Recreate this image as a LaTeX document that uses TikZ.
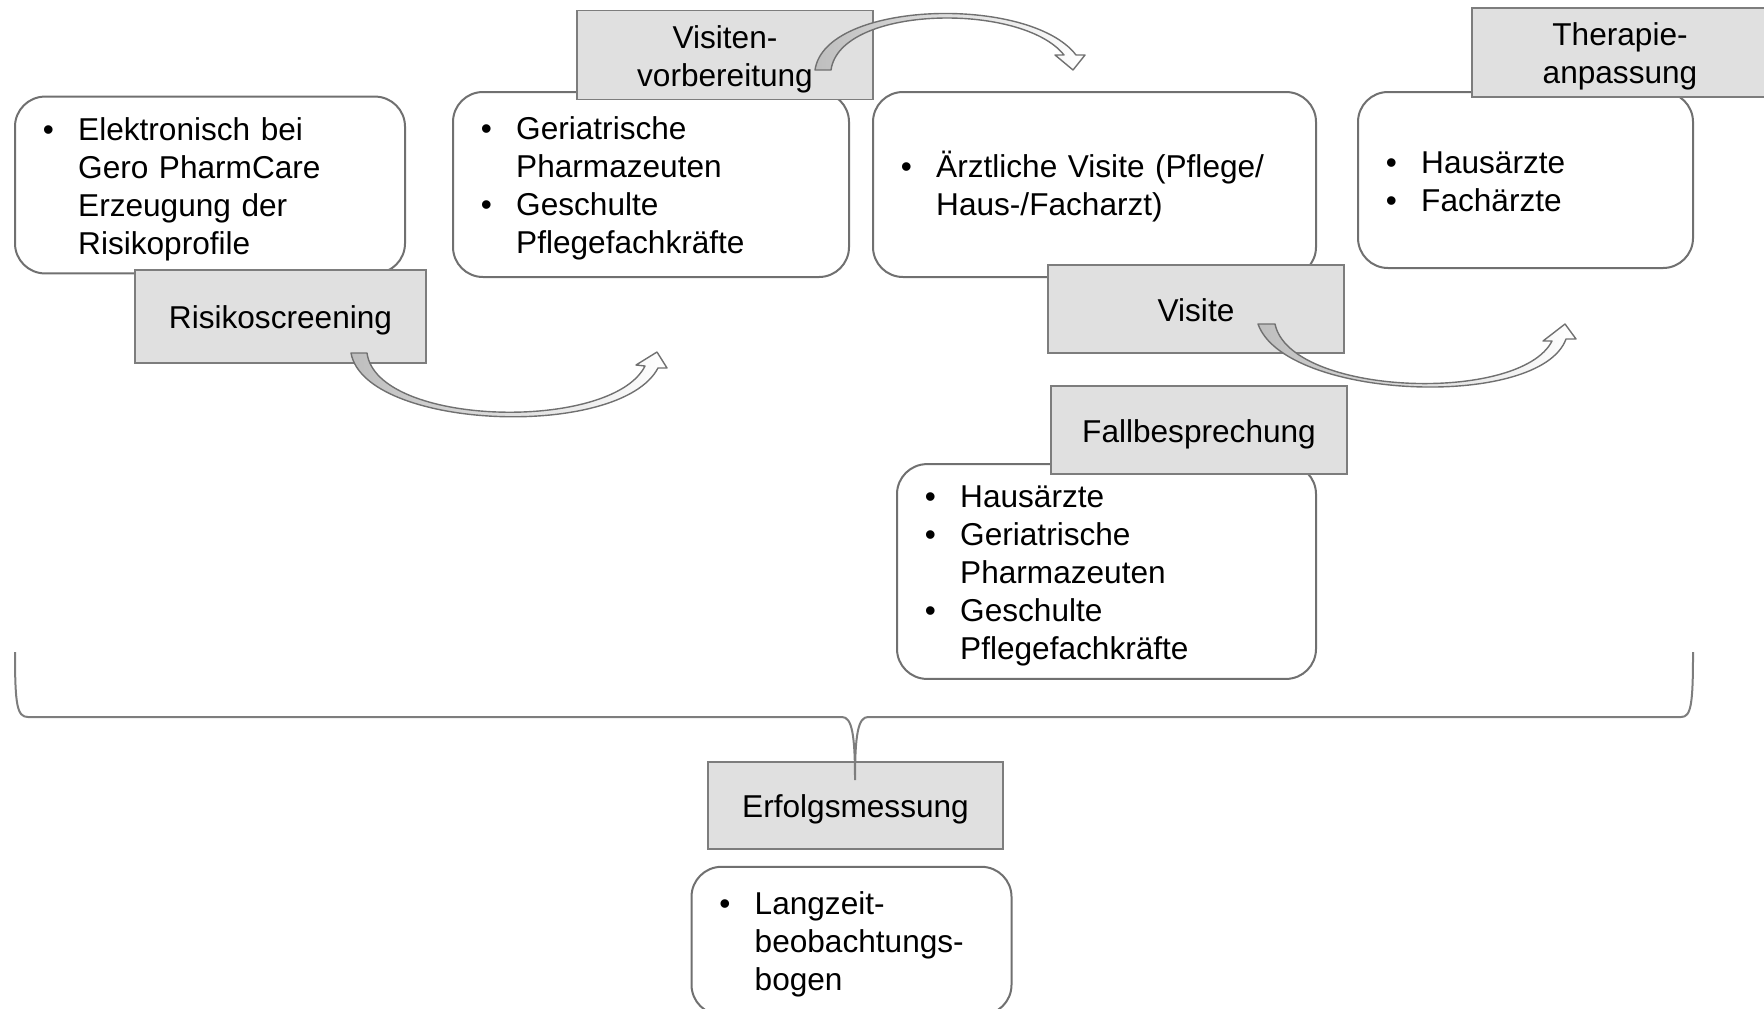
\documentclass[tikz,border=0pt]{standalone}
\usepackage{fontspec}
\setmainfont{Liberation Sans}
\usepackage{tikz}
\usetikzlibrary{positioning}
\definecolor{boxline}{RGB}{112,112,112}
\definecolor{labelfill}{RGB}{224,224,224}
\definecolor{labelline}{RGB}{125,125,125}
\definecolor{arrowfill}{RGB}{190,190,190}
\newcommand{\blt}{\makebox[17.7pt][l]{\textbullet}}
\newcommand{\toppad}{\noalign{\vskip4.4pt}}
\newcommand{\twoline}[1]{\begin{tabular}{@{}c@{}}\toppad #1\end{tabular}}
\tikzset{
  infobox/.style={draw=boxline, line width=1pt, rounded corners=15pt, fill=white,
    inner xsep=13.9pt, inner ysep=4pt, align=left, font=\fontsize{15.8}{19}\selectfont},
  phasebox/.style={draw=labelline, line width=0.8pt, fill=labelfill,
    minimum width=148pt, minimum height=44pt, inner sep=1pt, align=center,
    font=\fontsize{15.8}{19}\selectfont},
  bentarrow/.style={draw=boxline, line width=0.7pt, left color=arrowfill,
    right color=white, line join=round},
  bracket/.style={draw=labelline, line width=1pt}
}

\begin{document}
\begin{tikzpicture}[x=0.5pt, y=-0.5pt]
\useasboundingbox (0,0) rectangle (1764,1008);

% content boxes
\node[infobox, text width=167.2pt, minimum height=87pt] (scr) at (210,185)
  {\begin{tabular}{@{}l@{}l@{}}\toppad\blt & Elektronisch bei\\ & Gero PharmCare\\ & Erzeugung der\\ & Risikoprofile\end{tabular}};
\node[infobox, text width=170.2pt, minimum height=92.5pt] (prep) at (651,184.5)
  {\begin{tabular}{@{}l@{}l@{}}\toppad\blt & Geriatrische\\ & Pharmazeuten\\ \blt & Geschulte\\ & Pflegefachkräfte\end{tabular}};
\node[infobox, text width=193.7pt, minimum height=92.5pt] (vis) at (1094.5,184.5)
  {\begin{tabular}{@{}l@{}l@{}}\toppad\blt & Ärztliche Visite (Pflege/\\ & Haus-/Facharzt)\end{tabular}};
\node[infobox, text width=139.7pt, minimum height=88pt] (ther) at (1525.5,180)
  {\begin{tabular}{@{}l@{}l@{}}\toppad\blt & Hausärzte\\ \blt & Fachärzte\end{tabular}};
\node[infobox, text width=181.7pt, minimum height=104.5pt] (case) at (1106.5,571.5)
  {\begin{tabular}{@{}l@{}l@{}}\toppad\blt & Hausärzte\\ \blt & Geriatrische\\ & Pharmazeuten\\ \blt & Geschulte\\ & Pflegefachkräfte\end{tabular}};

% phase labels
\node[phasebox, minimum width=145.5pt, minimum height=46.5pt] (scrlab) at (280.5,316.5) {\twoline{Risikoscreening}};
\node[phasebox] (preplab) at (725,55) {\twoline{Visiten-\\vorbereitung}};
\node[phasebox] (vislab) at (1196,309) {\twoline{Visite}};
\node[phasebox, minimum height=44.5pt] (therlab) at (1620,52.5) {\twoline{Therapie-\\anpassung}};
\node[phasebox] (caselab) at (1199,430) {\twoline{Fallbesprechung}};
\node[phasebox, minimum width=147.5pt, minimum height=43.5pt] (erf) at (855.5,805.5) {\twoline{Erfolgsmessung}};
\node[infobox, text width=132.2pt, minimum height=74pt, below=8pt of erf, xshift=-2pt] (erfbox)
  {\begin{tabular}{@{}l@{}l@{}}\toppad\blt & Langzeit-\\ & beobachtungs-\\ & bogen\end{tabular}};

% curved block arrows
\draw[bentarrow] (351,353) .. controls (365,430) and (620,440) .. (658,368)
  -- (667,368) -- (657,352) -- (636,365) -- (645,366)
  .. controls (612,432) and (377,427) .. (367,353) -- cycle;
\draw[bentarrow] (815,70) .. controls (825,0) and (1030,-5) .. (1076,55)
  -- (1085,55) -- (1073,70) -- (1055,55) -- (1064,55)
  .. controls (1022,2) and (840,5) .. (831,70) -- cycle;
\draw[bentarrow] (1258,324) .. controls (1285,400) and (1540,410) .. (1566,339)
  -- (1576,339) -- (1565,324) -- (1543,341) -- (1552,341)
  .. controls (1520,404) and (1290,396) .. (1275,324) -- cycle;

% brace
\draw[bracket] (15,652) .. controls (15,705) and (17,717) .. (28,717) -- (842,717)
  .. controls (852,717) and (855,735) .. (855,780)
  .. controls (855,735) and (858,717) .. (868,717) -- (1681,717)
  .. controls (1691,717) and (1693,705) .. (1693,652);
\end{tikzpicture}
\end{document}
